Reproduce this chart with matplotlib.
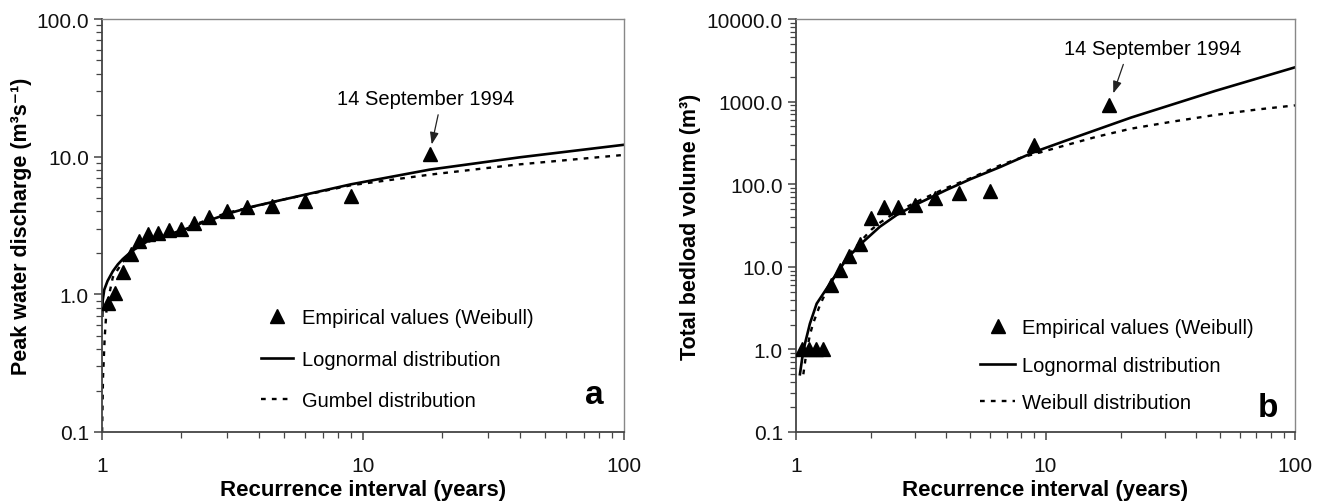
import matplotlib
matplotlib.use('Agg')
import matplotlib.pyplot as plt
from matplotlib.ticker import LogLocator, FormatStrFormatter, FuncFormatter, NullFormatter

plt.rcParams['font.family'] = ['Liberation Sans', 'DejaVu Sans']

# recurrence intervals of the 17 ranked events (Weibull plotting position)
emp_T = [1.059, 1.125, 1.2, 1.286, 1.385, 1.5, 1.636, 1.8, 2.0, 2.25, 2.571, 3.0, 3.6, 4.5, 6.0, 9.0, 18.0]

# panel a: peak water discharge
emp_Q = [0.86, 1.02, 1.45, 1.97, 2.45, 2.73, 2.78, 2.92, 2.96, 3.30, 3.65, 4.02, 4.33, 4.41, 4.75, 5.21, 10.46]
logn_a_T = [1.003, 1.006, 1.02, 1.05, 1.1, 1.15, 1.2, 1.3, 1.5, 1.75, 2.07, 2.5, 3.1, 3.8, 5.0, 9.0, 18.0, 40.0, 100.0]
logn_a_Q = [0.7, 0.9, 1.08, 1.25, 1.47, 1.65, 1.8, 2.06, 2.44, 2.67, 2.96, 3.38, 3.9, 4.35, 4.9, 6.3, 8.05, 9.9, 12.2]
gumb_a_T = [1.001, 1.009, 1.024, 1.04, 1.06, 1.1, 1.2, 1.3, 1.5, 2.0, 3.0, 5.0, 9.0, 18.0, 38.7, 100.0]
gumb_a_Q = [0.1, 0.25, 0.485, 0.76, 0.95, 1.33, 1.72, 2.02, 2.4, 2.95, 3.9, 4.9, 6.2, 7.4, 8.75, 10.3]

# panel b: total bedload volume
emp_V = [1.0, 1.0, 1.0, 1.0, 6.0, 9.1, 13.5, 18.7, 38.6, 53.6, 53.6, 56.0, 67.6, 79.0, 83.8, 301.0, 906.0]
logn_b_T = [1.037, 1.06, 1.086, 1.137, 1.21, 1.37, 1.6, 1.86, 2.0, 2.17, 2.53, 3.0, 4.0, 5.0, 6.6, 9.0, 12.0, 22.0, 48.0, 100.0]
logn_b_V = [0.5, 0.8, 1.17, 2.05, 3.58, 6.3, 12.6, 20.1, 24.5, 30.6, 42.3, 56.0, 85.0, 115.0, 162.0, 245.0, 335.0, 640.0, 1350.0, 2600.0]
weib_b_T = [1.07, 1.1, 1.137, 1.17, 1.25, 1.37, 1.6, 1.86, 2.0, 2.17, 2.38, 3.0, 4.0, 5.0, 6.6, 8.0, 12.0, 16.0, 22.0, 32.0, 48.0, 70.0, 100.0]
weib_b_V = [0.5, 0.9, 1.5, 2.05, 3.5, 6.3, 13.0, 22.0, 28.0, 34.2, 41.3, 60.0, 90.0, 118.0, 170.0, 210.0, 295.0, 375.0, 470.0, 570.0, 690.0, 800.0, 900.0]

TICK_FS = 15
LEG_FS = 14.5
LAB_FS = 15.5
DOTS = (0, (2.0, 2.6))


def style_axes(ax, ymin, ymax):
    ax.set_xscale('log')
    ax.set_yscale('log')
    ax.set_xlim(1, 100)
    ax.set_ylim(ymin, ymax)
    ax.xaxis.set_major_locator(LogLocator(base=10))
    ax.xaxis.set_minor_locator(LogLocator(base=10, subs=range(2, 10)))
    ax.yaxis.set_major_locator(LogLocator(base=10))
    ax.yaxis.set_minor_locator(LogLocator(base=10, subs=range(2, 10), numticks=20))
    ax.xaxis.set_major_formatter(FuncFormatter(lambda v, p: '%g' % v))
    ax.xaxis.set_minor_formatter(NullFormatter())
    ax.yaxis.set_major_formatter(FormatStrFormatter('%.1f'))
    ax.yaxis.set_minor_formatter(NullFormatter())
    ax.tick_params(which='both', direction='out', top=False, right=False,
                   color='#444444', labelsize=TICK_FS, labelcolor='#111111')
    ax.tick_params(which='major', length=6, width=1.1)
    ax.tick_params(which='minor', length=4, width=0.9)
    ax.tick_params(axis='x', which='major', pad=11)
    for s in ['left', 'bottom']:
        ax.spines[s].set_color('#444444')
        ax.spines[s].set_linewidth(1.3)
    for s in ['top', 'right']:
        ax.spines[s].set_color('#888888')
        ax.spines[s].set_linewidth(1.0)
    ax.set_xlabel('Recurrence interval (years)', fontsize=16, fontweight='bold', labelpad=3.5)


fig = plt.figure(figsize=(13.27, 5.02), dpi=100)
W, H = 1327, 502
ax_a = fig.add_axes([102 / W, 1 - 433 / H, (624 - 102) / W, 413 / H])
ax_b = fig.add_axes([796 / W, 1 - 433 / H, (1295 - 796) / W, 413 / H])

# ---- panel a
style_axes(ax_a, 0.1, 100)
ax_a.plot(emp_T, emp_Q, linestyle='none', marker='^', ms=9.5, color='black',
          label='Empirical values (Weibull)', zorder=3)
ax_a.plot(logn_a_T, logn_a_Q, color='black', lw=1.9, label='Lognormal distribution')
ax_a.plot(gumb_a_T, gumb_a_Q, color='black', lw=1.7, linestyle=DOTS, label='Gumbel distribution')
ax_a.set_ylabel('Peak water discharge (m³s⁻¹)', fontsize=LAB_FS, fontweight='bold', labelpad=3)
ax_a.legend(loc='upper left', bbox_to_anchor=(0.305, 0.30), frameon=False, fontsize=LEG_FS,
            handlelength=1.6, handletextpad=0.45, labelspacing=1.12, borderpad=0, borderaxespad=0)
ax_a.annotate('14 September 1994', xy=(emp_T[-1], emp_Q[-1]), xytext=(-3, 40),
              textcoords='offset points', ha='center', va='center', fontsize=LEG_FS,
              arrowprops=dict(arrowstyle='-|>,head_length=0.5,head_width=0.18', color='#222222',
                              lw=0.9, relpos=(0.58, 0), shrinkA=3, shrinkB=7))
ax_a.text(0.943, 0.09, 'a', transform=ax_a.transAxes, fontsize=24, fontweight='bold',
          ha='center', va='center')

# ---- panel b
style_axes(ax_b, 0.1, 10000)
ax_b.plot(emp_T, emp_V, linestyle='none', marker='^', ms=9.5, color='black',
          label='Empirical values (Weibull)', zorder=3)
ax_b.plot(logn_b_T, logn_b_V, color='black', lw=1.9, label='Lognormal distribution')
ax_b.plot(weib_b_T, weib_b_V, color='black', lw=1.7, linestyle=DOTS, label='Weibull distribution')
ax_b.set_ylabel('Total bedload volume (m³)', fontsize=LAB_FS, fontweight='bold', labelpad=4)
ax_b.legend(loc='upper left', bbox_to_anchor=(0.369, 0.275), frameon=False, fontsize=LEG_FS,
            handlelength=1.75, handletextpad=0.35, labelspacing=0.92, borderpad=0, borderaxespad=0)
ax_b.annotate('14 September 1994', xy=(emp_T[-1], emp_V[-1]), xytext=(31, 41),
              textcoords='offset points', ha='center', va='center', fontsize=LEG_FS,
              arrowprops=dict(arrowstyle='-|>,head_length=0.5,head_width=0.18', color='#222222',
                              lw=0.9, relpos=(0.35, 0), shrinkA=3, shrinkB=9))
ax_b.text(0.946, 0.06, 'b', transform=ax_b.transAxes, fontsize=24, fontweight='bold',
          ha='center', va='center')

fig.savefig('out.png', dpi=100)
